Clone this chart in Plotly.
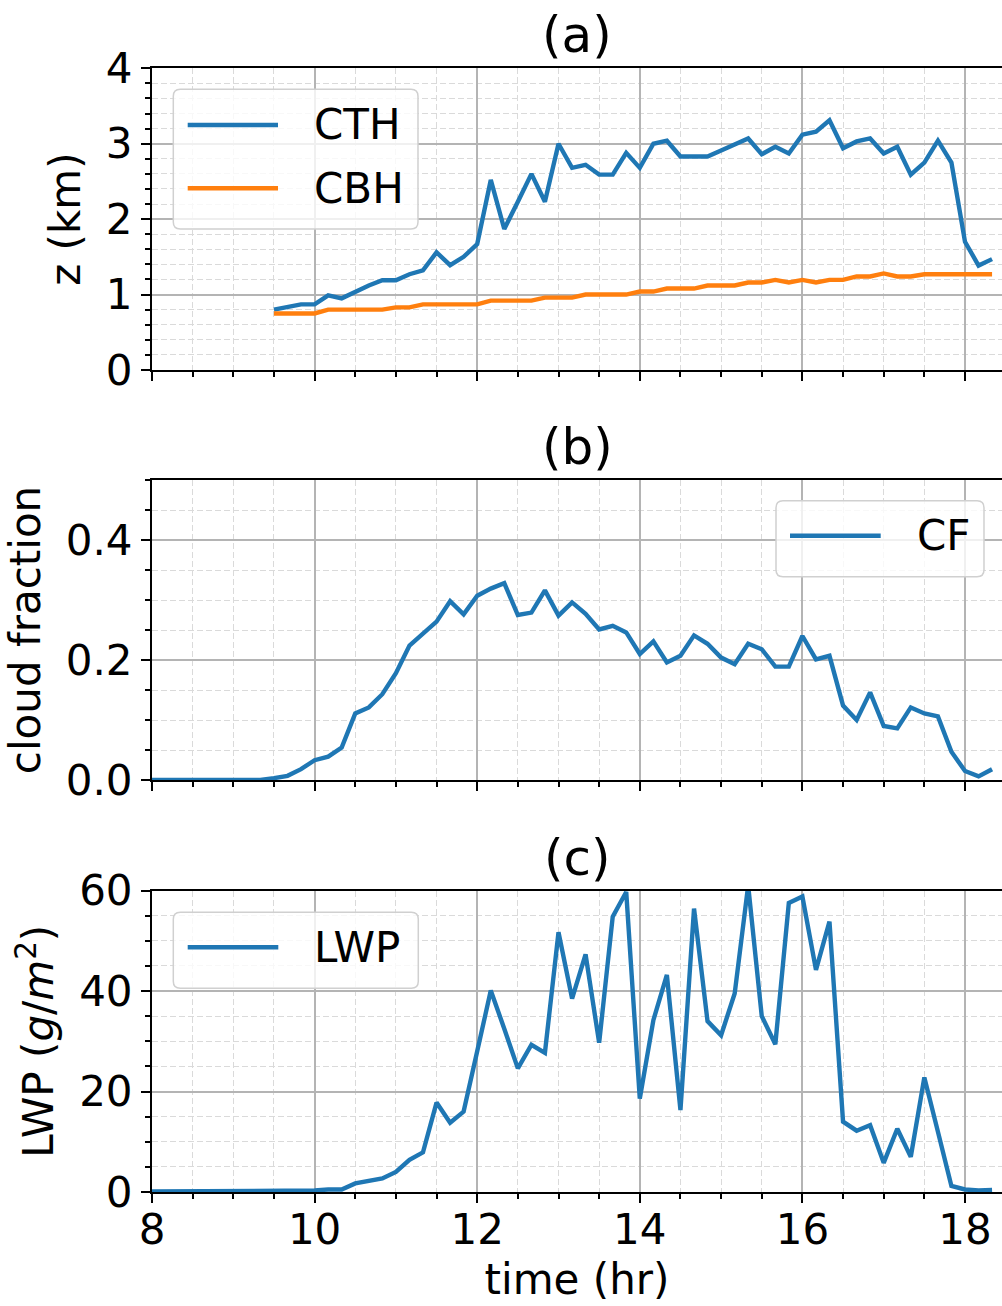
import plotly.graph_objects as go

# ---------------- data ----------------
time_all = [8.0, 8.167, 8.333, 8.5, 8.667, 8.833,
            9.0, 9.167, 9.333, 9.5, 9.667, 9.833,
            10.0, 10.167, 10.333, 10.5, 10.667, 10.833,
            11.0, 11.167, 11.333, 11.5, 11.667, 11.833,
            12.0, 12.167, 12.333, 12.5, 12.667, 12.833,
            13.0, 13.167, 13.333, 13.5, 13.667, 13.833,
            14.0, 14.167, 14.333, 14.5, 14.667, 14.833,
            15.0, 15.167, 15.333, 15.5, 15.667, 15.833,
            16.0, 16.167, 16.333, 16.5, 16.667, 16.833,
            17.0, 17.167, 17.333, 17.5, 17.667, 17.833,
            18.0, 18.167, 18.333]

time_cloud = [9.5, 9.667, 9.833,
              10.0, 10.167, 10.333, 10.5, 10.667, 10.833,
              11.0, 11.167, 11.333, 11.5, 11.667, 11.833,
              12.0, 12.167, 12.333, 12.5, 12.667, 12.833,
              13.0, 13.167, 13.333, 13.5, 13.667, 13.833,
              14.0, 14.167, 14.333, 14.5, 14.667, 14.833,
              15.0, 15.167, 15.333, 15.5, 15.667, 15.833,
              16.0, 16.167, 16.333, 16.5, 16.667, 16.833,
              17.0, 17.167, 17.333, 17.5, 17.667, 17.833,
              18.0, 18.167, 18.333]

cth = [0.80, 0.84, 0.87,
       0.87, 0.99, 0.95, 1.04, 1.12, 1.19,
       1.19, 1.27, 1.32, 1.56, 1.39, 1.50,
       1.67, 2.52, 1.87, 2.23, 2.60, 2.23,
       3.00, 2.68, 2.72, 2.59, 2.59, 2.88,
       2.68, 3.00, 3.04, 2.83, 2.83, 2.83,
       2.91, 2.99, 3.07, 2.86, 2.96, 2.87,
       3.12, 3.16, 3.31, 2.94, 3.03, 3.07,
       2.87, 2.96, 2.59, 2.75, 3.04, 2.75,
       1.70, 1.385, 1.47]

cbh = [0.75, 0.75, 0.75,
       0.75, 0.80, 0.80, 0.80, 0.80, 0.80,
       0.83, 0.83, 0.87, 0.87, 0.87, 0.87,
       0.87, 0.92, 0.92, 0.92, 0.92, 0.96,
       0.96, 0.96, 1.00, 1.00, 1.00, 1.00,
       1.04, 1.04, 1.08, 1.08, 1.08, 1.12,
       1.12, 1.12, 1.16, 1.16, 1.195, 1.16,
       1.195, 1.16, 1.195, 1.195, 1.24, 1.24,
       1.28, 1.24, 1.24, 1.27, 1.27, 1.27,
       1.27, 1.27, 1.27]

cf = [0.0, 0.0, 0.0, 0.0, 0.0, 0.0,
      0.0, 0.0, 0.0, 0.003, 0.007, 0.018,
      0.033, 0.039, 0.054, 0.111, 0.121, 0.143,
      0.178, 0.224, 0.244, 0.264, 0.298, 0.276,
      0.307, 0.319, 0.328, 0.275, 0.279, 0.316,
      0.274, 0.296, 0.277, 0.251, 0.257, 0.246,
      0.210, 0.231, 0.196, 0.207, 0.241, 0.227,
      0.204, 0.193, 0.227, 0.218, 0.189, 0.189,
      0.240, 0.201, 0.207, 0.124, 0.100, 0.146,
      0.090, 0.086, 0.121, 0.111, 0.106, 0.047,
      0.015, 0.006, 0.018]

lwp = [0.1, 0.1, 0.1, 0.1, 0.1, 0.1,
       0.1, 0.1, 0.1, 0.1, 0.2, 0.2,
       0.3, 0.5, 0.5, 1.7, 2.3, 2.7,
       4.0, 6.4, 7.9, 17.8, 13.8, 16.0,
       28.0, 40.1, 32.5, 24.6, 29.3, 27.7,
       51.7, 38.5, 47.3, 29.7, 54.8, 59.7,
       18.6, 34.2, 43.2, 16.3, 56.4, 34.0,
       31.2, 39.5, 61.0, 35.0, 29.4, 57.5,
       58.8, 44.2, 53.8, 14.0, 12.2, 13.3,
       5.8, 12.6, 7.0, 22.8, 12.0, 1.2,
       0.5, 0.3, 0.4]

panel_titles = ["(a)", "(b)", "(c)"]
y_titles = ["z (km)", "cloud fraction", "LWP (<i>g</i>/<i>m</i><sup>2</sup>)"]
x_title = "time (hr)"

BLUE = "#1f77b4"
ORANGE = "#ff7f0e"
FONT = "DejaVu Sans"

# ---------------- layout geometry (pixels) ----------------
W, H = 1002, 1306
ML, MR, MT, MB = 152, 0, 68, 114
PW, PH = W - ML - MR, H - MT - MB


def px(x):
    return (x - ML) / PW


def py(y):
    return (H - MB - y) / PH


panel_px = [(68.3, 370.0), (480.0, 780.0), (890.5, 1192.0)]
domains = [[py(b), min(1.0, py(t))] for t, b in panel_px]

fig = go.Figure()

LW = 4.4
fig.add_trace(go.Scatter(x=time_cloud, y=cth, mode="lines", name="CTH",
                         line=dict(color=BLUE, width=LW), xaxis="x", yaxis="y",
                         showlegend=False))
fig.add_trace(go.Scatter(x=time_cloud, y=cbh, mode="lines", name="CBH",
                         line=dict(color=ORANGE, width=LW), xaxis="x", yaxis="y",
                         showlegend=False))
fig.add_trace(go.Scatter(x=time_all, y=cf, mode="lines", name="CF",
                         line=dict(color=BLUE, width=LW), xaxis="x2", yaxis="y2",
                         showlegend=False))
fig.add_trace(go.Scatter(x=time_all, y=lwp, mode="lines", name="LWP",
                         line=dict(color=BLUE, width=LW), xaxis="x3", yaxis="y3",
                         showlegend=False))

grid_major = "#b4b4b4"
grid_minor = "#dadada"


def xaxis_cfg(anchor, show_labels):
    d = dict(anchor=anchor, domain=[0, 1], range=[8, 8 + 850 / 81.3],
             tick0=0, dtick=2, showticklabels=show_labels,
             showgrid=True, gridcolor=grid_major, gridwidth=1.5,
             showline=True, linecolor="black", linewidth=2, mirror=True,
             ticks="outside", ticklen=9, tickwidth=2, tickcolor="black",
             zeroline=False,
             tickfont=dict(family=FONT, size=42, color="black"),
             minor=dict(dtick=0.5, ticks="outside", ticklen=5, tickwidth=1.5,
                        tickcolor="black", showgrid=True, gridcolor=grid_minor,
                        griddash="6px,3px", gridwidth=1.2))
    if show_labels:
        d["ticklabelstandoff"] = -9
    return d


def yaxis_cfg(anchor, domain, rng, dtick, mdtick, title, fmt=None):
    d = dict(anchor=anchor, domain=domain, range=rng, tick0=0, dtick=dtick,
             showgrid=True, gridcolor=grid_major, gridwidth=1.5,
             showline=True, linecolor="black", linewidth=2, mirror=False,
             ticks="outside", ticklen=9, tickwidth=2, tickcolor="black",
             zeroline=False,
             tickfont=dict(family=FONT, size=42, color="black"),
             title=dict(text=title, font=dict(family=FONT, size=42, color="black"),
                        standoff=12),
             minor=dict(dtick=mdtick, ticks="outside", ticklen=5, tickwidth=1.5,
                        tickcolor="black", showgrid=True, gridcolor=grid_minor,
                        griddash="6px,3px", gridwidth=1.2))
    if fmt:
        d["tickformat"] = fmt
    return d


x3 = xaxis_cfg("y3", True)
x3["title"] = dict(text=x_title, font=dict(family=FONT, size=42, color="black"),
                   standoff=11)

fig.update_layout(
    width=W, height=H,
    margin=dict(l=ML, r=MR, t=MT, b=MB, pad=0),
    paper_bgcolor="white", plot_bgcolor="white",
    font=dict(family=FONT, size=42, color="black"),
    showlegend=False,
    xaxis=xaxis_cfg("y", False),
    xaxis2=dict(xaxis_cfg("y2", False), matches="x"),
    xaxis3=dict(x3, matches="x"),
    yaxis=yaxis_cfg("x", domains[0], [0, 4], 1, 0.2, y_titles[0]),
    yaxis2=yaxis_cfg("x2", domains[1], [0, 0.5], 0.2, 0.05, y_titles[1], ".1f"),
    yaxis3=yaxis_cfg("x3", domains[2], [0, 60], 20, 5, y_titles[2]),
)

annotations = []
shapes = []

# panel titles
for (top, _), txt in zip(panel_px, panel_titles):
    annotations.append(dict(text=txt, x=0.5, y=py(top), xref="paper", yref="paper",
                            xanchor="center", yanchor="bottom", yshift=2,
                            showarrow=False,
                            font=dict(family=FONT, size=50, color="black")))


def rrect_path(x0, y0, x1, y1, r):
    pts = [
        ("M", [(x0 + r, y0)]),
        ("L", [(x1 - r, y0)]),
        ("Q", [(x1, y0), (x1, y0 + r)]),
        ("L", [(x1, y1 - r)]),
        ("Q", [(x1, y1), (x1 - r, y1)]),
        ("L", [(x0 + r, y1)]),
        ("Q", [(x0, y1), (x0, y1 - r)]),
        ("L", [(x0, y0 + r)]),
        ("Q", [(x0, y0), (x0 + r, y0)]),
    ]
    s = ""
    for cmd, ps in pts:
        s += cmd + " ".join(f"{px(a):.5f},{py(b):.5f}" for a, b in ps) + " "
    return s + "Z"


legend_boxes = [
    (173.3, 89.3, 418.0, 229.0),
    (776.0, 500.7, 984.0, 576.7),
    (173.3, 912.3, 418.3, 988.3),
]
legend_items = [
    ("CTH", BLUE, 187.7, 278.0, 125.0, 311.7),
    ("CBH", ORANGE, 187.7, 278.0, 188.3, 311.7),
    ("CF", BLUE, 790.0, 880.7, 535.7, 915.0),
    ("LWP", BLUE, 187.7, 278.3, 947.3, 312.3),
]

for x0, y0, x1, y1 in legend_boxes:
    shapes.append(dict(type="path", path=rrect_path(x0, y0, x1, y1, 7),
                       xref="paper", yref="paper", layer="above",
                       fillcolor="rgba(255,255,255,0.8)",
                       line=dict(color="#d0d0d0", width=1.5)))

for name, col, lx0, lx1, ly, tx in legend_items:
    shapes.append(dict(type="line", x0=px(lx0), x1=px(lx1), y0=py(ly), y1=py(ly),
                       xref="paper", yref="paper", layer="above",
                       line=dict(color=col, width=LW)))
    annotations.append(dict(text=name, x=px(tx), y=py(ly), xref="paper", yref="paper",
                            xanchor="left", yanchor="middle", showarrow=False,
                            font=dict(family=FONT, size=42, color="black")))

fig.update_layout(annotations=annotations, shapes=shapes)

reset_css = ("document.body.style.margin='0px';"
             "document.body.style.padding='0px';"
             "document.documentElement.style.overflow='hidden';"
             "document.body.style.overflow='hidden';")

fig.write_html("out.html", post_script=reset_css,
               config={"displayModeBar": False})
